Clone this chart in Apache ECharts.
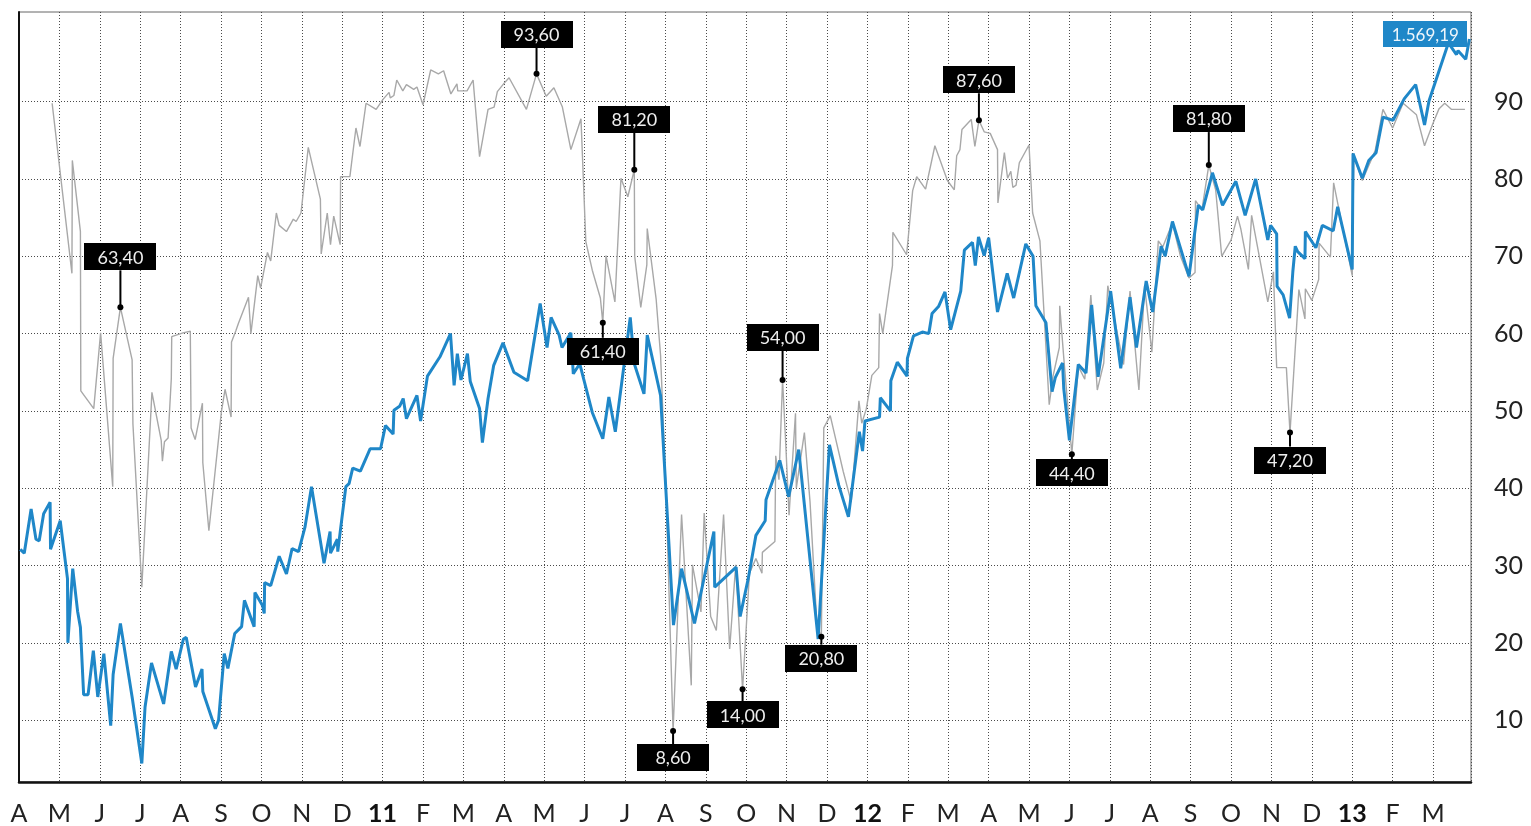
<!DOCTYPE html>
<html><head><meta charset="utf-8">
<script src="https://cdn.jsdelivr.net/npm/echarts@6/dist/echarts.min.js"></script>
<style>html,body{margin:0;padding:0;background:#fff}#c{width:1531px;height:826px}</style>
</head><body><div id="c"></div>
<script>
// x = months since April 2010 (fractional), y = index level on chart scale
const xTickLabels = ['A','M','J','J','A','S','O','N','D','11','F','M','A','M','J','J','A','S','O','N','D','12','F','M','A','M','J','J','A','S','O','N','D','13','F','M'];
const yTickValues = [10,20,30,40,50,60,70,80,90];

const bluePoints = [[0.03,32.1],[0.13,31.6],[0.3,37.3],[0.42,33.4],[0.5,33.2],[0.61,36.7],[0.77,38.2],[0.78,32.1],[1.02,35.8],[1.2,28.3],[1.21,20],[1.33,29.6],[1.45,24.1],[1.52,22],[1.6,13.3],[1.71,13.3],[1.84,19],[1.95,13],[2.1,18.6],[2.27,9.3],[2.33,15.9],[2.51,22.5],[2.8,13],[3.04,4.4],[3.12,11.7],[3.28,17.4],[3.58,12.1],[3.77,18.9],[3.89,16.6],[4.07,20.5],[4.14,20.7],[4.37,14.3],[4.53,16.6],[4.55,13.7],[4.86,8.9],[4.94,10],[5.08,18.6],[5.17,16.7],[5.34,21.2],[5.51,22.1],[5.58,25.5],[5.82,22.1],[5.84,26.5],[6.03,24.8],[6.07,23.8],[6.08,27.8],[6.23,27.4],[6.44,31.2],[6.62,28.9],[6.76,32.2],[6.92,31.8],[7.08,35],[7.24,40.2],[7.55,30.3],[7.7,34.4],[7.71,31.6],[7.88,33.4],[7.89,31.8],[8.09,40.2],[8.17,40.6],[8.26,42.6],[8.45,42.2],[8.69,45.1],[8.95,45.1],[9.07,48.1],[9.26,47],[9.28,50.1],[9.42,50.6],[9.51,51.6],[9.59,49],[9.85,52],[9.94,48.7],[10.11,54.5],[10.42,57],[10.68,60],[10.77,53.3],[10.85,57.4],[10.94,54],[11.1,57.4],[11.17,53.8],[11.4,50.3],[11.47,45.9],[11.61,51.6],[11.75,55.9],[11.98,58.8],[12.05,57.8],[12.25,55],[12.59,53.9],[12.9,63.9],[13.07,58.2],[13.17,62.1],[13.37,59.8],[13.44,58.2],[13.66,60.1],[13.72,54.8],[13.88,56.1],[14.19,49.8],[14.45,46.4],[14.6,51.8],[14.76,47.3],[15.13,62.1],[15.23,56.1],[15.47,52.2],[15.55,59.8],[15.88,52],[16.2,22.3],[16.4,29.6],[16.72,22.5],[17.2,34.4],[17.22,27.2],[17.75,29.8],[17.85,23.4],[18.05,28.3],[18.24,33.9],[18.47,35.8],[18.49,38.5],[18.83,43.6],[19.05,38.9],[19.3,45],[19.78,20.5],[20.06,45.6],[20.29,40.4],[20.53,36.3],[20.8,47.3],[20.88,44.8],[20.94,48.7],[21.3,49.2],[21.32,51.7],[21.57,50],[21.58,53.9],[21.74,56.3],[21.98,54.5],[21.99,56.8],[22.14,59.7],[22.36,60.2],[22.52,60],[22.6,62.6],[22.76,63.5],[22.92,65.4],[23.06,60.5],[23.31,65.5],[23.4,70.8],[23.6,71.8],[23.67,68.8],[23.75,72.5],[23.89,70.1],[24.0,72.4],[24.22,62.8],[24.46,67.8],[24.62,64.6],[24.92,71.6],[25.1,70],[25.17,63.6],[25.42,61.4],[25.57,52.5],[25.65,54.3],[25.83,56.2],[25.86,52.9],[26.0,46.2],[26.22,56],[26.41,54.9],[26.55,63.7],[26.71,54.4],[27.02,65.5],[27.27,55.5],[27.5,64.7],[27.66,58.2],[27.9,66.8],[28.06,62.8],[28.27,71.3],[28.37,70],[28.55,74.5],[28.96,67.4],[29.19,76.6],[29.3,76],[29.54,80.8],[29.79,76.6],[30.12,79.7],[30.35,75.3],[30.61,80],[30.91,72.1],[30.98,74],[31.13,72.9],[31.14,66.1],[31.29,65],[31.45,62],[31.53,68],[31.59,71.3],[31.65,70.6],[31.83,69.7],[31.84,73.2],[32.1,71.1],[32.26,74],[32.53,73.3],[32.64,76.4],[33.0,68.3],[33.02,83.3],[33.25,80.1],[33.41,82.4],[33.59,83.4],[33.76,88],[34.01,87.6],[34.29,90.4],[34.57,92.2],[34.79,87],[34.9,90.1],[35.38,97.6],[35.58,96.1],[35.62,96.6],[35.81,95.5],[35.9,98.1]];

const grayPoints = [[0.82,89.8],[1.31,67.8],[1.32,82.4],[1.52,73.2],[1.53,52.6],[1.85,50.3],[2.02,60.1],[2.32,40.2],[2.33,56.8],[2.51,63.4],[2.8,56.6],[2.82,48.3],[3.04,27.2],[3.29,52.4],[3.52,46.2],[3.55,43.5],[3.6,46],[3.69,46.5],[3.77,54.2],[3.78,59.6],[4.06,60.1],[4.24,60.3],[4.26,47.8],[4.36,46.3],[4.54,51],[4.55,43.3],[4.7,34.5],[5.01,49.9],[5.1,52.8],[5.25,49.2],[5.26,58.9],[5.37,60.4],[5.43,61.3],[5.68,64.7],[5.74,60],[5.91,67.5],[5.98,65.9],[6.15,70.5],[6.23,69.4],[6.37,75.6],[6.44,74],[6.62,73.2],[6.79,74.8],[6.86,74.5],[6.98,75.6],[7.16,84.1],[7.46,77.4],[7.48,70.3],[7.63,75.6],[7.71,71.5],[7.79,75.2],[7.95,71.5],[7.96,80.3],[8.19,80.3],[8.34,86.6],[8.44,84.2],[8.59,89.8],[8.84,89],[9.01,90.3],[9.16,91.2],[9.19,90.5],[9.28,90.8],[9.35,92.8],[9.5,91.4],[9.59,92.2],[9.77,91.6],[9.85,91.9],[10.0,89.6],[10.19,94.1],[10.38,93.6],[10.51,94],[10.69,91],[10.84,92.3],[10.86,91.4],[11.09,91.4],[11.24,92.8],[11.4,82.9],[11.61,89],[11.76,89.3],[11.84,91.3],[12.01,92.4],[12.13,93.1],[12.56,89],[12.81,93.6],[13.05,90.7],[13.24,91.8],[13.45,89.3],[13.66,83.8],[13.91,87.8],[14.03,71.9],[14.19,68.2],[14.39,64.6],[14.45,61.4],[14.53,70.1],[14.75,64.1],[14.9,80.1],[15.07,77.7],[15.23,81.2],[15.24,70],[15.39,63.4],[15.54,68.9],[15.55,73.6],[15.77,64.5],[15.88,57.2],[16.02,39],[16.19,8.6],[16.4,36.6],[16.64,14.5],[16.67,30.1],[16.88,24],[16.96,36.8],[17.12,23.4],[17.26,21.6],[17.44,36.6],[17.59,19.2],[17.74,30.1],[17.91,14],[18.08,29],[18.24,30.9],[18.39,29],[18.4,31.7],[18.71,33.1],[18.73,44.2],[18.81,41.1],[18.9,54],[18.98,45.6],[19.06,36.5],[19.19,47.2],[19.22,49.7],[19.24,40],[19.44,47.2],[19.58,38.2],[19.75,22.3],[19.86,20.8],[19.92,47.8],[20.08,49.4],[20.4,42.2],[20.6,38.2],[20.79,51.3],[20.86,48.4],[20.97,50.2],[21.11,54.6],[21.28,55.6],[21.3,62.6],[21.38,60],[21.62,68.8],[21.63,73.1],[21.97,70.2],[22.12,78.5],[22.22,80.3],[22.44,78.7],[22.67,84.3],[22.98,79.8],[23.15,78.6],[23.21,83],[23.29,83.8],[23.34,86.4],[23.57,87.7],[23.66,84.2],[23.76,87.6],[23.89,86.1],[24.04,85.9],[24.22,83.8],[24.23,76.9],[24.39,83.4],[24.47,80.1],[24.55,81],[24.6,78.9],[24.68,79.2],[24.76,82.1],[25.0,84.4],[25.09,75.6],[25.27,72],[25.5,50.8],[25.59,54.4],[25.75,58.2],[25.76,63.6],[25.86,56.9],[26.06,44.4],[26.22,55.8],[26.38,54.1],[26.53,65],[26.69,52.7],[26.85,56.2],[26.95,66.2],[27.34,56],[27.5,65.5],[27.72,52.7],[27.86,66.2],[28.04,57.6],[28.2,72],[28.31,71.2],[28.55,74.3],[28.75,70],[28.96,67.2],[29.11,67.9],[29.12,77.2],[29.28,76],[29.45,81.8],[29.62,78.6],[29.77,70],[30.0,72.1],[30.16,75.2],[30.24,73.6],[30.43,68.3],[30.51,75.3],[30.91,64.1],[31.05,68],[31.13,55.6],[31.37,55.6],[31.46,47.2],[31.68,65.7],[31.83,61.9],[31.84,65.8],[32.0,64.3],[32.17,67],[32.18,71.7],[32.46,69.9],[32.54,79.5],[33.0,67.5],[33.04,82.9],[33.25,79.8],[33.57,83.7],[33.76,89],[34.0,86.6],[34.26,89.8],[34.59,88.3],[34.79,84.3],[35.0,87.2],[35.15,89.1],[35.29,89.8],[35.46,89],[35.79,89]];

// annotated values of the grey series
const noteT = [2.51, 12.81, 15.23, 14.45, 16.19, 17.91, 18.9, 19.86, 23.76, 26.06, 29.45, 31.46];
const noteV = [63.4, 93.6, 81.2, 61.4, 8.6, 14.0, 54.0, 20.8, 87.6, 44.4, 81.8, 47.2];
// last value label of the blue series
const blueLastText = '1.569,19';

// layout of the annotation boxes (style, not data)
const noteSide = ['up','up','up','down','down','down','up','down','up','down','up','down'];
const noteStem = [37, 26, 37, 15, 13, 12, 29, 8, 27, 5, 33, 14];

const FONT = 'Lato, "Open Sans", sans-serif';
const fmt = v => v.toFixed(2).replace('.', ',');

const chart = echarts.init(document.getElementById('c'), null, {renderer: 'canvas'});
const gridLine = {show: true, lineStyle: {color: '#4a4a4a', width: 1, type: [1, 2]}};

const option = {
  animation: false,
  backgroundColor: '#fff',
  grid: {left: 19, right: 60, top: 12, bottom: 43, show: true, borderColor: '#666', borderWidth: 1},
  xAxis: {
    type: 'value', min: 0, max: 35.94, interval: 1,
    axisLine: {show: true, onZero: false, lineStyle: {color: '#111', width: 2.5}},
    axisTick: {show: false},
    splitLine: gridLine,
    axisLabel: {
      margin: 19, fontSize: 25, color: '#222', fontFamily: FONT,
      formatter: function (v) {
        const r = Math.round(v);
        if (Math.abs(v - r) > 1e-6) return '';
        const s = xTickLabels[r];
        if (s == null) return '';
        return /\d/.test(s) ? '{b|' + s + '}' : s;
      },
      rich: {b: {fontWeight: 'bold', fontSize: 25, fontFamily: FONT, color: '#111'}}
    }
  },
  yAxis: {
    type: 'value', position: 'right', min: 2, max: 101.6,
    axisLine: {show: true, lineStyle: {color: '#111', width: 2}},
    axisTick: {show: false, customValues: yTickValues},
    splitLine: gridLine,
    axisLabel: {customValues: yTickValues, margin: 23, fontSize: 25, color: '#222', fontFamily: FONT}
  },
  series: [
    {
      type: 'line', data: grayPoints, showSymbol: false, symbol: 'none', z: 2,
      lineStyle: {color: '#a8a8a8', width: 1.4}
    },
    {
      type: 'line', data: bluePoints, showSymbol: false, symbol: 'none', z: 3,
      lineStyle: {color: '#1f87c8', width: 3}
    },
    {
      type: 'custom', z: 10, clip: false,
      data: noteT.map((t, i) => [t, noteV[i]]),
      encode: {x: 0, y: 1},
      renderItem: function (params, api) {
        const i = params.dataIndex;
        const p = api.coord([api.value(0), api.value(1)]);
        const up = noteSide[i] === 'up';
        const s = noteStem[i];
        const w = 72, h = 27;
        const edgeY = up ? p[1] - s : p[1] + s;
        const boxY = up ? edgeY - h : edgeY;
        return {type: 'group', children: [
          {type: 'line', shape: {x1: p[0], y1: p[1], x2: p[0], y2: edgeY}, style: {stroke: '#000', lineWidth: 2}},
          {type: 'circle', shape: {cx: p[0], cy: p[1], r: 3}, style: {fill: '#000'}},
          {type: 'rect', shape: {x: Math.round(p[0] - w / 2), y: Math.round(boxY), width: w, height: h}, style: {fill: '#000'}},
          {type: 'text', x: p[0], y: boxY + h / 2 + 1, style: {text: fmt(noteV[i]), fill: '#eeeeee', font: '18px ' + FONT, align: 'center', verticalAlign: 'middle'}}
        ]};
      }
    },
    {
      type: 'custom', z: 11, clip: false,
      data: [bluePoints[bluePoints.length - 1]],
      encode: {x: 0, y: 1},
      renderItem: function (params, api) {
        const p = api.coord([api.value(0), api.value(1)]);
        const w = 84, h = 26;
        const x = p[0] - 2 - w, y = p[1] - 5 - h / 2;
        return {type: 'group', children: [
          {type: 'rect', shape: {x: Math.round(x), y: Math.round(y), width: w, height: h}, style: {fill: '#1f87c8'}},
          {type: 'text', x: x + w / 2, y: y + h / 2 + 1, style: {text: blueLastText, fill: '#eef6fb', font: '17px ' + FONT, align: 'center', verticalAlign: 'middle'}}
        ]};
      }
    }
  ]
};
chart.setOption(option);
</script>
</body></html>
